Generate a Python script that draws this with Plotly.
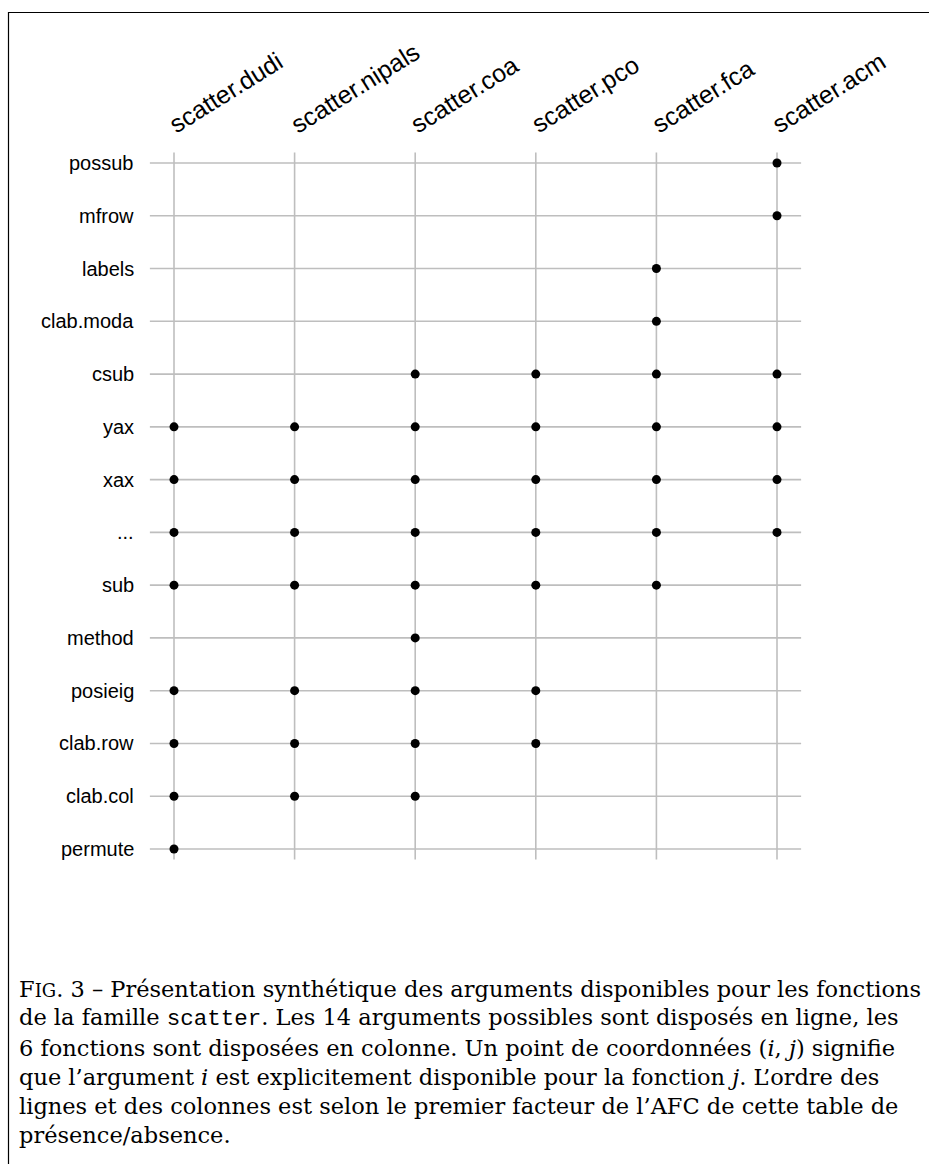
import plotly.graph_objects as go

# Functions of the scatter family (columns) and their arguments (rows, top to bottom)
functions = ["scatter.dudi", "scatter.nipals", "scatter.coa",
             "scatter.pco", "scatter.fca", "scatter.acm"]
arguments = ["possub", "mfrow", "labels", "clab.moda", "csub", "yax", "xax",
             "...", "sub", "method", "posieig", "clab.row", "clab.col", "permute"]

# presence[i][j] = 1 when argument i is explicitly available for function j
presence = [
    [0, 0, 0, 0, 0, 1],  # possub
    [0, 0, 0, 0, 0, 1],  # mfrow
    [0, 0, 0, 0, 1, 0],  # labels
    [0, 0, 0, 0, 1, 0],  # clab.moda
    [0, 0, 1, 1, 1, 1],  # csub
    [1, 1, 1, 1, 1, 1],  # yax
    [1, 1, 1, 1, 1, 1],  # xax
    [1, 1, 1, 1, 1, 1],  # ...
    [1, 1, 1, 1, 1, 0],  # sub
    [0, 0, 1, 0, 0, 0],  # method
    [1, 1, 1, 1, 0, 0],  # posieig
    [1, 1, 1, 1, 0, 0],  # clab.row
    [1, 1, 1, 0, 0, 0],  # clab.col
    [1, 0, 0, 0, 0, 0],  # permute
]

caption_lines = [
    "F<span style='font-size:18px'>IG</span>. 3 – Présentation synthétique des arguments disponibles pour les fonctions",
    "de la famille <span style='font-family:\"Liberation Mono\", monospace'>scatter</span>. Les 14 arguments possibles sont disposés en ligne, les",
    "6 fonctions sont disposées en colonne. Un point de coordonnées (<i>i</i>, <i>j</i>) signifie",
    "que l’argument <i>i</i> est explicitement disponible pour la fonction <i>j</i>. L’ordre des",
    "lignes et des colonnes est selon le premier facteur de l’AFC de cette table de",
    "présence/absence.",
]

W, H = 929, 1164
n_fun = len(functions)
n_arg = len(arguments)

# Axis ranges: column 1 at x=174px, column 6 at x=777px; top row at y=163px, bottom row at y=849px
xs = (777 - 174) / (n_fun - 1)
x0 = 1 - 174 / xs
x1 = x0 + W / xs
ys = (849 - 163) / (n_arg - 1)
ytop = n_arg + 163 / ys
ybot = ytop - H / ys

# Grid segments
ext_x, ext_y = 0.2, 0.2
gx, gy = [], []
for i in range(n_arg):
    yv = n_arg - i
    gx += [1 - ext_x, n_fun + ext_x, None]
    gy += [yv, yv, None]
for j in range(n_fun):
    xv = j + 1
    gx += [xv, xv, None]
    gy += [1 - ext_y, n_arg + ext_y, None]

# Points
px, py = [], []
for i, row in enumerate(presence):
    for j, v in enumerate(row):
        if v:
            px.append(j + 1)
            py.append(n_arg - i)

fig = go.Figure()
fig.add_trace(go.Scatter(x=gx, y=gy, mode="lines",
                         line=dict(color="#bebebe", width=1.6),
                         hoverinfo="skip", showlegend=False))
fig.add_trace(go.Scatter(x=px, y=py, mode="markers",
                         marker=dict(color="black", size=9),
                         hoverinfo="skip", showlegend=False))

annotations = []
# Row labels
for i, a in enumerate(arguments):
    annotations.append(dict(x=1, y=n_arg - i, xref="x", yref="y", text=a,
                            showarrow=False, xanchor="right", yanchor="middle",
                            xshift=-38, font=dict(family="Liberation Sans, Arial", size=20, color="black")))
# Column labels, rotated
for j, f in enumerate(functions):
    annotations.append(dict(x=j + 1, y=n_arg, xref="x", yref="y", text=f,
                            showarrow=False, xanchor="left", yanchor="bottom",
                            textangle=-32, xshift=-12, yshift=22,
                            font=dict(family="Liberation Sans, Arial", size=25, color="black")))
# Caption
baselines = [997, 1026, 1055.5, 1085, 1114, 1143]
for line, b in zip(caption_lines, baselines):
    annotations.append(dict(x=17 / W, y=1 - (b - 8) / H, xref="paper", yref="paper",
                            text=line, showarrow=False, xanchor="left", yanchor="middle",
                            font=dict(family="DejaVu Serif, serif", size=22.5, color="black")))

fig.update_layout(
    width=W, height=H,
    margin=dict(l=0, r=0, t=0, b=0),
    paper_bgcolor="white", plot_bgcolor="white",
    xaxis=dict(range=[x0, x1], visible=False, fixedrange=True),
    yaxis=dict(range=[ybot, ytop], visible=False, fixedrange=True),
    annotations=annotations,
    shapes=[dict(type="rect", xref="paper", yref="paper",
                 x0=8.5 / W, x1=1.05, y0=-0.05, y1=1 - 12.5 / H,
                 line=dict(color="black", width=1.2), layer="above")],
)

fig.write_html("out.html")
